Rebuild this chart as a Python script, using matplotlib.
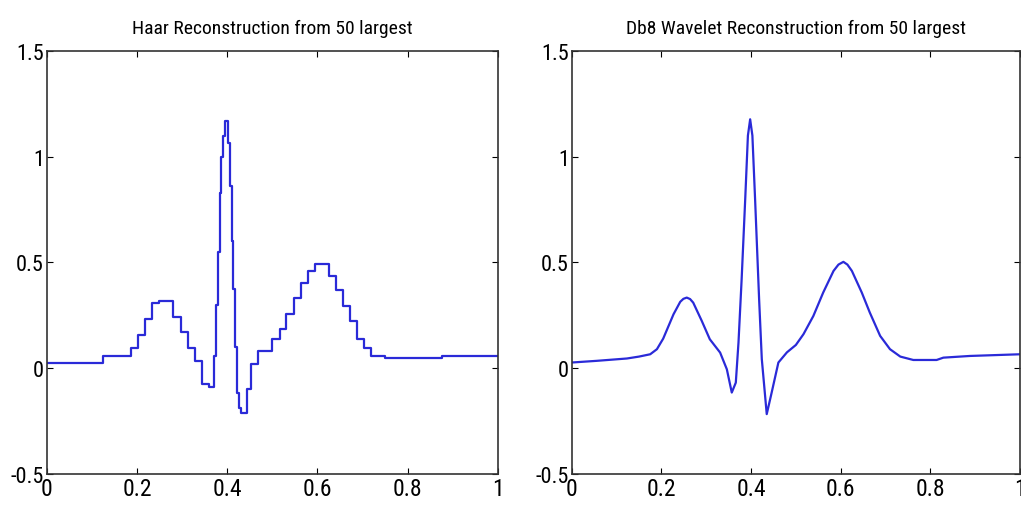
import matplotlib
matplotlib.use("Agg")
import matplotlib.pyplot as plt
from matplotlib import font_manager

# Haar reconstruction: step edges and level held from each edge
haar_x = [0.0, 0.125, 0.1875, 0.203, 0.219, 0.234, 0.25, 0.281, 0.297, 0.3125,
          0.328, 0.344, 0.359, 0.371, 0.375, 0.379, 0.383, 0.387, 0.391, 0.395,
          0.402, 0.406, 0.41, 0.414, 0.418, 0.422, 0.426, 0.43, 0.445, 0.453,
          0.469, 0.5, 0.516, 0.531, 0.547, 0.5625, 0.578, 0.594, 0.625, 0.641,
          0.656, 0.672, 0.6875, 0.703, 0.719, 0.75, 0.875, 1.0]
haar_y = [0.027, 0.058, 0.098, 0.156, 0.232, 0.31, 0.318, 0.24, 0.169, 0.098,
          0.035, -0.076, -0.091, 0.06, 0.3, 0.55, 0.83, 1.0, 1.1, 1.169,
          1.067, 0.86, 0.6, 0.373, 0.1, -0.115, -0.19, -0.21, -0.1, 0.019,
          0.082, 0.137, 0.184, 0.255, 0.334, 0.405, 0.46, 0.492, 0.436, 0.369,
          0.295, 0.224, 0.137, 0.098, 0.058, 0.046, 0.058, 0.058]

# Db8 reconstruction samples
db8_x = [0.0, 0.056, 0.123, 0.15, 0.175, 0.19, 0.204, 0.227, 0.242, 0.249,
         0.2565, 0.264, 0.271, 0.29, 0.308, 0.331, 0.346, 0.357, 0.366, 0.372,
         0.379, 0.387, 0.393, 0.398, 0.403, 0.409, 0.418, 0.424, 0.435, 0.446,
         0.461, 0.48, 0.50, 0.517, 0.539, 0.561, 0.584, 0.595, 0.606, 0.615,
         0.625, 0.647, 0.665, 0.688, 0.71, 0.733, 0.762, 0.814, 0.829, 0.888,
         1.0]
db8_y = [0.027, 0.035, 0.046, 0.055, 0.066, 0.09, 0.14, 0.255, 0.314, 0.328,
         0.334, 0.327, 0.31, 0.224, 0.137, 0.074, -0.005, -0.115, -0.068, 0.122,
         0.42, 0.8, 1.1, 1.177, 1.1, 0.8, 0.326, 0.043, -0.217, -0.115,
         0.027, 0.075, 0.11, 0.161, 0.247, 0.358, 0.46, 0.49, 0.503, 0.49,
         0.46, 0.358, 0.263, 0.153, 0.09, 0.055, 0.039, 0.039, 0.05, 0.058,
         0.066]

titles = ["Haar Reconstruction from 50 largest",
          "Db8 Wavelet Reconstruction from 50 largest"]
xticks = [0, 0.2, 0.4, 0.6, 0.8, 1]
xticklabels = ["0", "0.2", "0.4", "0.6", "0.8", "1"]
yticks = [-0.5, 0, 0.5, 1, 1.5]
yticklabels = ["-0.5", "0", "0.5", "1", "1.5"]

names = {f.name for f in font_manager.fontManager.ttflist}
fam = "DejaVu Sans"
for cand in ["Liberation Sans Narrow", "Roboto Condensed", "Liberation Sans"]:
    if cand in names:
        fam = cand
        break

line_color = "#2a2ad8"

fig = plt.figure(figsize=(10.21, 5.06), dpi=100)
ax1 = fig.add_axes([0.0457, 0.0613, 0.442, 0.836])
ax2 = fig.add_axes([0.560, 0.0613, 0.439, 0.836])

ax1.step(haar_x, haar_y, where="post", color=line_color, lw=1.6)
ax2.plot(db8_x, db8_y, color=line_color, lw=1.6)

for ax, title in zip([ax1, ax2], titles):
    ax.set_xlim(0, 1)
    ax.set_ylim(-0.5, 1.5)
    ax.set_xticks(xticks)
    ax.set_xticklabels(xticklabels, family=fam, fontsize=17)
    ax.set_yticks(yticks)
    ax.set_yticklabels(yticklabels, family=fam, fontsize=16)
    ax.tick_params(direction="in", top=True, right=True, length=4, width=0.8,
                   pad=2)
    for s in ax.spines.values():
        s.set_linewidth(1.2)
        s.set_color("#333333")
    ax.set_title(title, family=fam, fontsize=14, pad=13)

fig.savefig("out.png", dpi=100)
